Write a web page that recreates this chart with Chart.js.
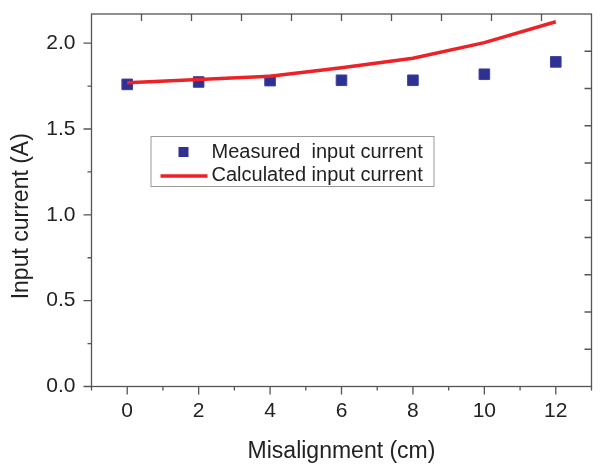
<!DOCTYPE html>
<html>
<head>
<meta charset="utf-8">
<script src="https://cdn.jsdelivr.net/npm/chart.js@4.4.1/dist/chart.umd.min.js"></script>
<style>
  html, body { margin: 0; padding: 0; background: #fff; }
  #wrap { width: 600px; height: 465px; }
</style>
</head>
<body>
<div id="wrap"><canvas id="chart" width="600" height="465"></canvas></div>
<script>
// ---- data ----
const misalignment = [0, 2, 4, 6, 8, 10, 12];
const measuredCurrent = [1.76, 1.774, 1.782, 1.784, 1.784, 1.819, 1.891];
const calculatedCurrent = [1.77, 1.788, 1.807, 1.857, 1.912, 2.003, 2.125];
const xTickValues = [0, 2, 4, 6, 8, 10, 12];
const yTickValues = [0.0, 0.5, 1.0, 1.5, 2.0];
const seriesLabels = ['Measured  input current', 'Calculated input current'];

const FONT = "'Liberation Sans', Arial, sans-serif";
const TEXT = '#222';
const FRAME = '#555';

// drop the label overhang padding so the plot box sits where we want it
function noPad(scale) {
    scale.paddingTop = 0;
    scale.paddingBottom = 0;
    scale.paddingLeft = 0;
    scale.paddingRight = 0;
}

// frame with Origin-style ticks (outward bottom/left, inward top/right)
const framePlugin = {
    id: 'frame',
    afterDraw(chart) {
        const { ctx, chartArea: a, scales: { x, y } } = chart;
        ctx.save();
        ctx.strokeStyle = FRAME;
        ctx.lineWidth = 1.3;
        ctx.strokeRect(a.left, a.top, a.right - a.left, a.bottom - a.top);
        ctx.beginPath();
        for (let v = x.min; v <= x.max; v++) {
            const px = x.getPixelForValue(v);
            const len = v % 2 === 0 ? 8 : 4;
            ctx.moveTo(px, a.bottom);
            ctx.lineTo(px, a.bottom + len);
        }
        for (let i = 0; i * 0.25 <= 2.0001; i++) {
            const py = y.getPixelForValue(i * 0.25);
            const len = i % 2 === 0 ? 8 : 4;
            ctx.moveTo(a.left - len, py);
            ctx.lineTo(a.left, py);
        }
        for (let i = 1; i < 10; i++) {
            const px = a.left + (a.right - a.left) * i / 10;
            ctx.moveTo(px, a.top);
            ctx.lineTo(px, a.top + 7);
            const py = a.top + (a.bottom - a.top) * i / 10;
            ctx.moveTo(a.right, py);
            ctx.lineTo(a.right - 7, py);
        }
        ctx.stroke();
        ctx.restore();
    }
};

// boxed legend inside the plot
const legendPlugin = {
    id: 'boxLegend',
    afterDraw(chart) {
        const { ctx, chartArea: a } = chart;
        const left = a.left + 59, top = a.top + 122;
        const w = 283, h = 50;
        ctx.save();
        ctx.strokeStyle = '#9a9a9a';
        ctx.lineWidth = 1;
        ctx.strokeRect(left + 0.5, top + 0.5, w, h);

        const ds = chart.data.datasets;
        // measured: square marker
        const m = ds[0];
        ctx.fillStyle = m.backgroundColor;
        ctx.fillRect(left + 28, top + 11, 10, 10);
        // calculated: line sample
        const c = ds[1];
        ctx.strokeStyle = c.borderColor;
        ctx.lineWidth = c.borderWidth;
        ctx.beginPath();
        ctx.moveTo(left + 10, top + 40);
        ctx.lineTo(left + 57, top + 40);
        ctx.stroke();

        ctx.fillStyle = TEXT;
        ctx.font = '20px ' + FONT;
        ctx.textBaseline = 'middle';
        ctx.fillText(m.label, left + 61, top + 16);
        ctx.fillText(c.label, left + 61, top + 39);
        ctx.restore();
    }
};

new Chart(document.getElementById('chart'), {
    type: 'line',
    data: {
        datasets: [
            {
                label: seriesLabels[0],
                data: misalignment.map((v, i) => ({ x: v, y: measuredCurrent[i] })),
                showLine: false,
                pointStyle: 'rect',
                pointRadius: 7.5,
                backgroundColor: '#2e3192',
                borderColor: '#3d42a0',
                borderWidth: 1,
                order: 1
            },
            {
                label: seriesLabels[1],
                data: misalignment.map((v, i) => ({ x: v, y: calculatedCurrent[i] })),
                borderColor: '#ec2227',
                backgroundColor: '#ec2227',
                borderWidth: 3.5,
                pointRadius: 0,
                tension: 0,
                order: 0
            }
        ]
    },
    options: {
        responsive: false,
        animation: false,
        layout: { padding: { top: 14, right: 2.5, left: 0, bottom: 0 } },
        plugins: {
            legend: { display: false },
            tooltip: { enabled: false }
        },
        scales: {
            x: {
                type: 'linear',
                min: -1,
                max: 13,
                afterBuildTicks: scale => { scale.ticks = xTickValues.map(v => ({ value: v })); },
                afterFit: scale => { scale.height = 78.5; noPad(scale); },
                grid: { display: false, drawTicks: false },
                border: { display: false },
                ticks: {
                    color: TEXT,
                    padding: 12,
                    font: { family: FONT, size: 21 }
                },
                title: {
                    display: true,
                    text: 'Misalignment (cm)',
                    color: TEXT,
                    padding: { bottom: 0, top: 0 },
                    font: { family: FONT, size: 23 }
                }
            },
            y: {
                min: 0,
                max: 2.17,
                afterBuildTicks: scale => { scale.ticks = yTickValues.map(v => ({ value: v })); },
                afterFit: scale => { scale.width = 91.5; noPad(scale); },
                grid: { display: false, drawTicks: false },
                border: { display: false },
                ticks: {
                    color: TEXT,
                    padding: 16,
                    font: { family: FONT, size: 21 },
                    callback: v => v.toFixed(1)
                },
                title: {
                    display: true,
                    // trailing spaces nudge the title below the axis centre, as in the original
                    text: 'Input current (A)     ',
                    color: TEXT,
                    padding: { top: 8, bottom: 0 },
                    font: { family: FONT, size: 23 }
                }
            }
        }
    },
    plugins: [framePlugin, legendPlugin]
});
</script>
</body>
</html>
